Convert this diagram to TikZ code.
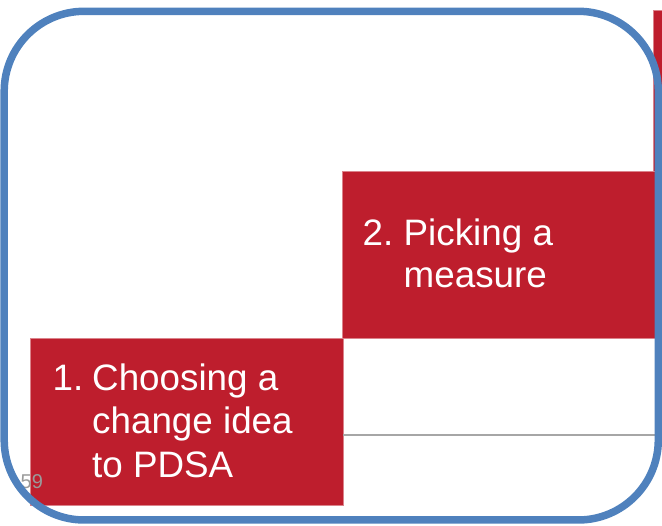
\documentclass[tikz,border=0pt]{standalone}
\usepackage{fontspec}
\setmainfont{Liberation Sans}
\definecolor{stepred}{HTML}{BE1E2D}
\definecolor{frameblue}{HTML}{4F81BD}
\definecolor{rulegray}{HTML}{A6A6A6}
\definecolor{numgray}{HTML}{9A9A9A}
\tikzset{
  stepbox/.style={fill=stepred, draw=stepred!55!white, line width=0.8pt},
  steptext/.style={anchor=base west, inner sep=0pt, text=white, font=\fontsize{36.8}{44}\selectfont},
}
\begin{document}
\begin{tikzpicture}[x=1pt, y=-1pt]
\useasboundingbox (0,0) rectangle (662,526);
% step boxes
\path[stepbox] (653,10) rectangle (700,176);
\path[stepbox] (342,171) rectangle (655,338);
\path[stepbox] (30,338) rectangle (343,505);
% baseline rule
\coordinate (ruleL) at (343,435);
\coordinate (ruleR) at (658,435);
\draw[rulegray, line width=2.5pt] (ruleL) -- (ruleR);
% texts step 1
\node[steptext] (n1a) at (52.5,391) {1.};
\node[steptext] (t1a) at (92,391) {Choosing a};
\node[steptext] (t1b) at (92,434) {change idea};
\node[steptext] (t1c) at (92,478) {to PDSA};
% texts step 2
\node[steptext] (n2a) at (362.5,246) {2.};
\node[steptext] (t2a) at (403.5,246) {Picking a};
\node[steptext] (t2b) at (403.5,288) {measure};
% page number
\node[anchor=base west, inner sep=0pt, text=numgray, font=\fontsize{20}{24}\selectfont] (pg) at (20.5,489) {59};
% frame
\draw[frameblue, line width=7.5pt, rounded corners=80pt] (4.2,11.3) rectangle (658.3,520);
\end{tikzpicture}
\end{document}
